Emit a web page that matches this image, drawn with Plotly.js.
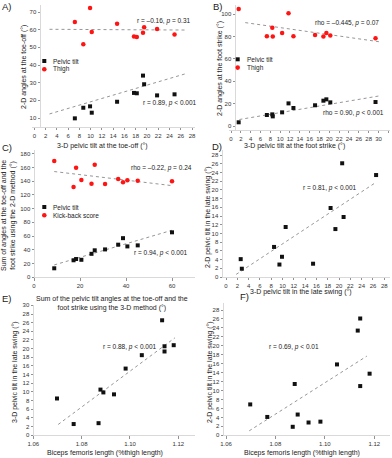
<!DOCTYPE html>
<html><head><meta charset="utf-8">
<script src="https://cdn.plot.ly/plotly-3.0.1.min.js"></script>
<style>html,body{margin:0;padding:0;background:#fff}#c{width:392px;height:458px}</style>
</head><body><div id="c"></div>
<script>
// ---- Panel A: toe-off ----
const toeOff3D        = [7.2, 8.7, 9.9, 10.2, 14.7, 17.7, 18.2, 19.3, 19.5, 21.8, 24.9];
const toeOffPelvic2D  = [9.8, 15.8, 16.6, 13.0, 19.2, 24.2, 24.0, 34.0, 29.1, 22.8, 23.4];
const toeOffThigh2D   = [64.3, 51.7, 72.3, 58.7, 63.4, 56.2, 55.8, 58.3, 61.3, 60.4, 57.2];
const fitA_x = [2.7, 26.7];
const fitA_pelvic = [12.3, 34.9];
const fitA_thigh  = [60.2, 59.8];
// ---- Panel B: foot strike ----
const footStrike3D       = [1.56, 7.3, 8.4, 8.5, 10.4, 11.7, 12.7, 17.1, 18.8, 19.4, 20.2, 29.4];
const footStrikePelvic2D = [3.3, 9.8, 10.4, 8.6, 12.2, 20.2, 16.1, 18.5, 22.6, 23.8, 21.1, 21.4];
const footStrikeThigh2D  = [104.5, 80.1, 87.8, 79.8, 83.0, 100.6, 80.1, 81.3, 79.8, 83.0, 80.7, 78.3];
const fitB_x = [1.7, 30.5];
const fitB_pelvic = [5.8, 27.1];
const fitB_thigh_x = [2.9, 30.5];
const fitB_thigh  = [92.3, 75.0];
// ---- Panel C: sums (toe-off + foot strike) ----
const sum3D        = [8.8, 17.2, 18.3, 20.6, 25.0, 26.4, 30.9, 36.6, 38.7, 40.6, 45.1, 60.0];
const sumPelvic2D  = [13.1, 24.8, 26.6, 25.5, 34.2, 39.3, 40.6, 47.5, 57.0, 45.0, 46.5, 65.5];
const kickBack     = [169.3, 131.5, 159.6, 141.7, 136.3, 164.0, 135.9, 143.1, 138.3, 141.2, 140.7, 139.7];
const fitC_x = [8.8, 60.0];
const fitC_pelvic = [18.0, 68.5];
const fitC_kick   = [154.0, 133.5];
// ---- Panels D, E, F: late swing ----
const bicepsFemoris = [1.0698, 1.0767, 1.0870, 1.0878, 1.0890, 1.0934, 1.0982, 1.1049, 1.1133, 1.1143, 1.1143, 1.1181];
const late3D        = [8.5, 2.6, 2.8, 10.55, 9.9, 9.45, 15.4, 18.5, 26.55, 20.55, 19.35, 20.8];
const late2D        = [6.9, 4.1, 1.9, 11.47, 4.64, 2.86, 3.05, 15.84, 23.4, 26.1, 11.0, 13.77];
const fitD_x = [1.8, 26.5];
const fitD_y = [0.6, 21.7];
const fitE_x = [1.0703, 1.1186];
const fitE_y = [2.5, 22.5];
const fitF_x = [1.0694, 1.1170];
const fitF_y = [1.0, 17.7];

const W = 392, H = 458;
const FONT = 'Liberation Sans, Arial, sans-serif';
const fx = p => p / W, fy = p => 1 - p / H;
function lin(p0, v0, p1, v1, p) { return v0 + (p - p0) * (v1 - v0) / (p1 - p0); }

const BLACK = '#111', RED = '#ff1414', LINE = '#8a8a8a';
function pts(x, y, ax, color, sym) {
  return {type:'scatter', mode:'markers', x:x, y:y, xaxis:'x'+ax, yaxis:'y'+ax,
    marker:{symbol:sym, size: sym==='square'?4:4.5, color:color}, showlegend:false, hoverinfo:'skip', cliponaxis:false};
}
function fit(x, y, ax) {
  return {type:'scatter', mode:'lines', x:x, y:y, xaxis:'x'+ax, yaxis:'y'+ax,
    line:{color:LINE, width:0.9, dash:'dot'}, showlegend:false, hoverinfo:'skip'};
}
const data = [
  fit(fitA_x, fitA_thigh, ''), fit(fitA_x, fitA_pelvic, ''),
  pts(toeOff3D, toeOffThigh2D, '', RED, 'circle'), pts(toeOff3D, toeOffPelvic2D, '', BLACK, 'square'),
  fit(fitB_thigh_x, fitB_thigh, '2'), fit(fitB_x, fitB_pelvic, '2'),
  pts(footStrike3D, footStrikeThigh2D, '2', RED, 'circle'), pts(footStrike3D, footStrikePelvic2D, '2', BLACK, 'square'),
  fit(fitC_x, fitC_kick, '3'), fit(fitC_x, fitC_pelvic, '3'),
  pts(sum3D, kickBack, '3', RED, 'circle'), pts(sum3D, sumPelvic2D, '3', BLACK, 'square'),
  fit(fitD_x, fitD_y, '4'), pts(late3D, late2D, '4', BLACK, 'square'),
  fit(fitE_x, fitE_y, '5'), pts(bicepsFemoris, late3D, '5', BLACK, 'square'),
  fit(fitF_x, fitF_y, '6'), pts(bicepsFemoris, late2D, '6', BLACK, 'square')
];

// panel geometry: calibration (pixel,value) pairs, domain in pixels, y-axis pixel position
const panels = [
  {xc:[34.3,0,192,28],    xd:[32,195],  yc:[118,10,12,70],    yd:[5,127],   ypos:40,  xdt:2,  ydt:10},
  {xc:[231,0,388.3,32],   xd:[229,390], yc:[126,0,14,100],    yd:[5,130],   ypos:235, xdt:2,  ydt:20},
  {xc:[34,0,172,60],      xd:[32,195],  yc:[277.3,0,153.7,180],yd:[150,277.3], ypos:34,  xdt:20, ydt:20},
  {xc:[226,0,384.3,28],   xd:[221,390], yc:[277,0,155,28],    yd:[150,277], ypos:222, xdt:2,  ydt:2},
  {xc:[33.3,1.06,178.3,1.12], xd:[31,195], yc:[435.3,0,314,28], yd:[305,435.3], ypos:33, xdt:0.02, ydt:2, fmt:'.2f'},
  {xc:[226,1.06,374.3,1.12],  xd:[222,390], yc:[435.3,0,310,28], yd:[303,435.3], ypos:223, xdt:0.02, ydt:2, fmt:'.2f'}
];
const layout = {
  width: W, height: H, margin:{l:0,r:0,t:0,b:0}, paper_bgcolor:'#fff', plot_bgcolor:'rgba(0,0,0,0)',
  font:{family:FONT, size:7, color:'#222'}, showlegend:false, annotations:[], shapes:[]
};
const tickBase = {showgrid:false, zeroline:false, ticks:'outside', ticklen:2.5, tickwidth:0.8, tickcolor:'#777',
  showline:true, linecolor:'#d0d0d0', linewidth:0.8, tickfont:{family:FONT, size:6, color:'#333'}};
panels.forEach((p, i) => {
  const s = i === 0 ? '' : String(i + 1);
  const xr = [lin(p.xc[0],p.xc[1],p.xc[2],p.xc[3],p.xd[0]), lin(p.xc[0],p.xc[1],p.xc[2],p.xc[3],p.xd[1])];
  const yr = [lin(p.yc[0],p.yc[1],p.yc[2],p.yc[3],p.yd[1]), lin(p.yc[0],p.yc[1],p.yc[2],p.yc[3],p.yd[0])];
  layout['xaxis' + s] = Object.assign({}, tickBase, {domain:[fx(p.xd[0]), fx(p.xd[1])], range:xr,
    anchor:'y' + s, tick0: p.fmt ? 1.06 : 0, dtick:p.xdt, tickformat:p.fmt || ''});
  layout['yaxis' + s] = Object.assign({}, tickBase, {domain:[fy(p.yd[1]), fy(p.yd[0])], range:yr,
    anchor:'free', position: fx(p.ypos), tick0:0, dtick:p.ydt});
});

function ann(text, px, py, opts) {
  layout.annotations.push(Object.assign({text:text, x:fx(px), y:fy(py), xref:'paper', yref:'paper',
    showarrow:false, xanchor:'center', yanchor:'middle', font:{family:FONT, size:7, color:'#222'}}, opts || {}));
}
// panel letters
[['A)',0,-1],['B)',211,-1],['C)',0,140],['D)',210,139],['E)',0,291],['F)',238,289]].forEach(l =>
  ann(l[0], l[1], l[2], {xanchor:'left', yanchor:'top', font:{family:FONT, size:9.5, color:'#222'}}));
// axis titles
ann('3-D pelvic tilt at the toe-off (°)', 102, 146);
ann('2-D angles at the toe-off (°)', 24, 67, {textangle:-90});
ann('3-D pelvic tilt at the foot strike (°)', 294, 146);
ann('2-D angles at the foot strike (°)', 220, 68, {textangle:-90});
ann('Sum of the pelvic tilt angles at the toe-off and the<br>foot strike using the 3-D method (°)', 112, 303);
ann('Sum of angles at the toe-off and the<br>foot strike using the 2-D method (°)', 8, 216, {textangle:-90});
ann('3-D pelvic tilt in the late swing (°)', 301, 292);
ann('2-D pelvic tilt in the late swing (°)', 208, 217, {textangle:-90});
ann('Biceps femoris length (%thigh length)', 105, 453);
ann('3-D pelvic tilt in the late swing (°)', 15, 372, {textangle:-90});
ann('Biceps femoris length (%thigh length)', 302, 453);
ann('2-D pelvic tilt in the late swing (°)', 210, 372, {textangle:-90});
// statistics
const st = {font:{family:FONT, size:6.5, color:'#222'}};
ann('r = –0.16, <i>p</i> = 0.31', 164, 21, st);
ann('r = 0.89, <i>p</i> < 0.001', 170, 103, st);
ann('rho = –0.445, <i>p</i> = 0.07', 347, 23, st);
ann('rho = 0.90, <i>p</i> < 0.001', 353, 113, st);
ann('rho = –0.22, <i>p</i> = 0.24', 161, 168, st);
ann('r = 0.94, <i>p</i> < 0.001', 161, 253, st);
ann('r = 0.81, <i>p</i> < 0.001', 330, 188, st);
ann('r = 0.88, <i>p</i> < 0.001', 130, 347, st);
ann('r = 0.69, <i>p</i> < 0.01', 294, 347, st);
// legends
function legend(px, py, label1, label2) {
  const d = 2, r = 2.3;
  layout.shapes.push({type:'rect', xref:'paper', yref:'paper', x0:fx(px-d), x1:fx(px+d), y0:fy(py+d), y1:fy(py-d),
    fillcolor:BLACK, line:{width:0}});
  layout.shapes.push({type:'circle', xref:'paper', yref:'paper', x0:fx(px-r), x1:fx(px+r), y0:fy(py+8.3+r), y1:fy(py+8.3-r),
    fillcolor:RED, line:{width:0}});
  ann(label1, px+7, py, {xanchor:'left', font:{family:FONT, size:6.5, color:'#222'}});
  ann(label2, px+7, py+8.3, {xanchor:'left', font:{family:FONT, size:6.5, color:'#222'}});
}
legend(44.3, 61, 'Pelvic tilt', 'Thigh');
legend(237.7, 59.3, 'Pelvic tilt', 'Thigh');
legend(44.3, 207, 'Pelvic tilt', 'Kick-back score');

Plotly.newPlot('c', data, layout, {staticPlot:true, displayModeBar:false});
</script></body></html>
